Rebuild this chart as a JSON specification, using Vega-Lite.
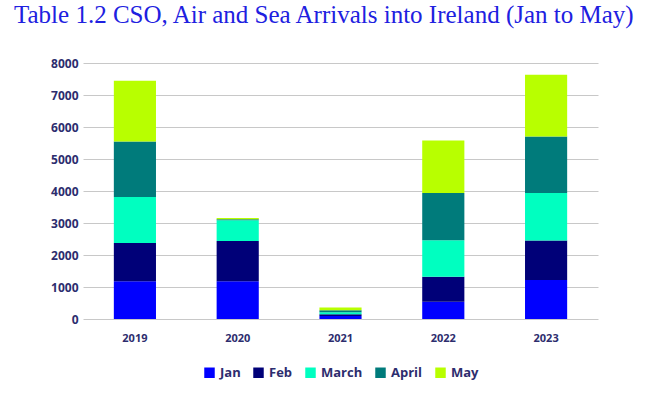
{
  "$schema": "https://vega.github.io/schema/vega-lite/v6.json",
  "width": 502,
  "height": 256,
  "autosize": {"type": "none"},
  "padding": {"left": 83, "top": 63, "right": 65, "bottom": 76},
  "background": "white",
  "title": {
    "text": "Table 1.2 CSO, Air and Sea Arrivals into Ireland  (Jan to May)",
    "anchor": "start",
    "frame": "group",
    "dx": -69,
    "offset": 29,
    "font": "Liberation Serif",
    "fontSize": 25,
    "fontWeight": "normal",
    "color": "#2020e0"
  },
  "data": {
    "values": [
      {"year": "2019", "month": "Jan", "idx": 1, "arrivals": 1180},
      {"year": "2019", "month": "Feb", "idx": 2, "arrivals": 1195},
      {"year": "2019", "month": "March", "idx": 3, "arrivals": 1435},
      {"year": "2019", "month": "April", "idx": 4, "arrivals": 1735},
      {"year": "2019", "month": "May", "idx": 5, "arrivals": 1900},
      {"year": "2020", "month": "Jan", "idx": 1, "arrivals": 1180},
      {"year": "2020", "month": "Feb", "idx": 2, "arrivals": 1257},
      {"year": "2020", "month": "March", "idx": 3, "arrivals": 647},
      {"year": "2020", "month": "April", "idx": 4, "arrivals": 30},
      {"year": "2020", "month": "May", "idx": 5, "arrivals": 40},
      {"year": "2021", "month": "Jan", "idx": 1, "arrivals": 90},
      {"year": "2021", "month": "Feb", "idx": 2, "arrivals": 60},
      {"year": "2021", "month": "March", "idx": 3, "arrivals": 60},
      {"year": "2021", "month": "April", "idx": 4, "arrivals": 60},
      {"year": "2021", "month": "May", "idx": 5, "arrivals": 90},
      {"year": "2022", "month": "Jan", "idx": 1, "arrivals": 540},
      {"year": "2022", "month": "Feb", "idx": 2, "arrivals": 780},
      {"year": "2022", "month": "March", "idx": 3, "arrivals": 1140},
      {"year": "2022", "month": "April", "idx": 4, "arrivals": 1480},
      {"year": "2022", "month": "May", "idx": 5, "arrivals": 1635},
      {"year": "2023", "month": "Jan", "idx": 1, "arrivals": 1215},
      {"year": "2023", "month": "Feb", "idx": 2, "arrivals": 1235},
      {"year": "2023", "month": "March", "idx": 3, "arrivals": 1485},
      {"year": "2023", "month": "April", "idx": 4, "arrivals": 1765},
      {"year": "2023", "month": "May", "idx": 5, "arrivals": 1930}
    ]
  },
  "mark": {"type": "bar"},
  "encoding": {
    "x": {
      "field": "year",
      "type": "nominal",
      "scale": {"range": [0, 515], "paddingInner": 0.59, "paddingOuter": 0.3},
      "axis": {
        "title": null,
        "labelAngle": 0,
        "ticks": false,
        "domain": false,
        "labelFont": "Open Sans",
        "labelFontWeight": "bold",
        "labelFontSize": 11,
        "labelColor": "#2d2d6e",
        "labelPadding": 13
      }
    },
    "y": {
      "field": "arrivals",
      "type": "quantitative",
      "stack": "zero",
      "scale": {"domain": [0, 8000]},
      "axis": {
        "title": null,
        "values": [0, 1000, 2000, 3000, 4000, 5000, 6000, 7000, 8000],
        "format": "d",
        "ticks": false,
        "domain": false,
        "gridColor": "#c8c8c8",
        "gridWidth": 1,
        "labelFont": "Open Sans",
        "labelFontWeight": "bold",
        "labelFontSize": 12,
        "labelColor": "#2d2d6e",
        "labelPadding": 5
      }
    },
    "color": {
      "field": "month",
      "type": "nominal",
      "scale": {
        "domain": ["Jan", "Feb", "March", "April", "May"],
        "range": ["#0000ff", "#000078", "#00ffc0", "#007b7b", "#b8ff00"]
      },
      "legend": {
        "title": null,
        "orient": "none",
        "legendX": 120,
        "legendY": 303,
        "direction": "horizontal",
        "symbolType": "square",
        "symbolSize": 110,
        "symbolStrokeWidth": 0,
        "labelFont": "Open Sans",
        "labelFontWeight": "bold",
        "labelFontSize": 13,
        "labelColor": "#2d2d6e",
        "columnPadding": 11
      }
    },
    "order": {"field": "idx", "type": "quantitative", "sort": "ascending"}
  },
  "config": {"view": {"stroke": null}}
}
